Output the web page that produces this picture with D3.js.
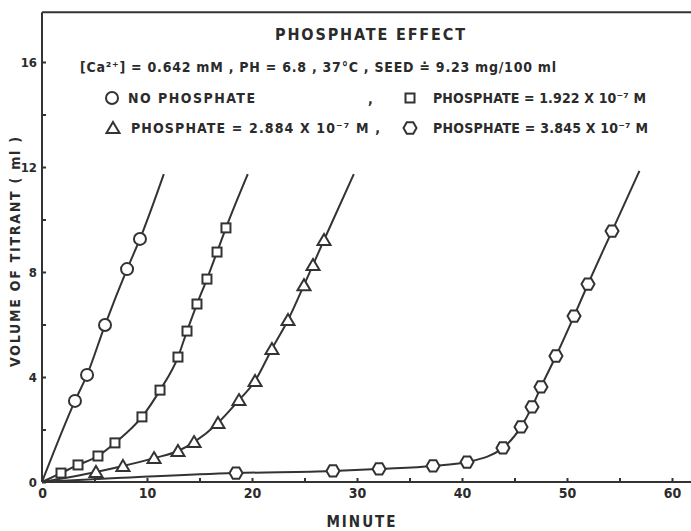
<!DOCTYPE html>
<html lang="en">
<head>
    <meta charset="UTF-8">
    <title>Phosphate Effect</title>
    <script src="https://d3js.org/d3.v7.min.js"></script>
    <style>
        body { margin: 0; background: #fff; }
        svg text {
            font-family: 'DejaVu Sans Condensed', 'DejaVu Sans', sans-serif;
            font-weight: bold;
            fill: #2b2b2b;
        }
        .axis path, .axis line { stroke: #333; stroke-width: 2; }
        .axis text { font-size: 14px; }
        .curve { fill: none; stroke: #333; stroke-width: 2; }
        .marker { fill: #fff; stroke: #333; stroke-width: 2; }
    </style>
</head>
<body>
    <svg width="691" height="531"></svg>
    <script>
        // minutes and ml of titrant
        const noPhosX = [3.14, 4.29, 6.0, 8.1, 9.33];
        const noPhosY = [3.09, 4.08, 5.98, 8.11, 9.26];
        const noPhosEnd = [11.6, 11.73];

        const phos1X = [1.81, 3.43, 5.33, 6.95, 9.52, 11.24, 12.95, 13.81, 14.76, 15.71, 16.67, 17.52];
        const phos1Y = [0.34, 0.65, 0.99, 1.49, 2.48, 3.5, 4.76, 5.75, 6.78, 7.73, 8.76, 9.68];
        const phos1End = [19.6, 11.73];

        const phos2X = [5.14, 7.71, 10.67, 12.95, 14.48, 16.76, 18.76, 20.29, 21.9, 23.43, 24.95, 25.81, 26.86];
        const phos2Y = [0.38, 0.61, 0.91, 1.18, 1.52, 2.25, 3.12, 3.85, 5.07, 6.17, 7.5, 8.27, 9.22];
        const phos2End = [29.7, 11.73];

        const phos3X = [18.48, 27.71, 32.1, 37.24, 40.48, 43.9, 45.62, 46.67, 47.52, 48.95, 50.67, 52.0, 54.29];
        const phos3Y = [0.34, 0.42, 0.5, 0.61, 0.76, 1.30, 2.10, 2.86, 3.62, 4.8, 6.32, 7.54, 9.56];
        const phos3End = [56.9, 11.85];

        const xTicks = [0, 10, 20, 30, 40, 50, 60];
        const yTicks = [0, 4, 8, 12, 16];

        const svg = d3.select("svg");

        const x = d3.scaleLinear().domain([0, 60]).range([42, 672]);
        const y = d3.scaleLinear().domain([0, 16]).range([482, 62]);

        // frame: top border
        svg.append("line")
            .attr("x1", x(0)).attr("x2", 691)
            .attr("y1", y(17.9)).attr("y2", y(17.9))
            .attr("stroke", "#333").attr("stroke-width", 2);

        // x axis
        const xAxis = svg.append("g")
            .attr("class", "axis")
            .attr("transform", `translate(0,${y(0)})`)
            .call(d3.axisBottom(x).tickValues(d3.range(0, 65, 5)).tickSize(-4)
                .tickFormat(d => xTicks.includes(d) ? d : ""));
        xAxis.select(".domain").attr("d", `M${x(0)},0H691`);
        xAxis.selectAll("text").attr("y", 6);

        // y axis
        const yAxis = svg.append("g")
            .attr("class", "axis")
            .attr("transform", `translate(${x(0)},0)`)
            .call(d3.axisLeft(y).tickValues(d3.range(0, 18, 2)).tickSize(-4)
                .tickFormat(d => yTicks.includes(d) ? d : ""));
        yAxis.select(".domain").attr("d", `M0,${y(17.9)}V${y(0)}`);
        yAxis.selectAll("text").attr("x", -5).style("font-size", "13px");

        // axis titles
        svg.append("text")
            .attr("x", 362).attr("y", 527)
            .attr("text-anchor", "middle")
            .attr("font-size", 15)
            .attr("letter-spacing", 2)
            .text("MINUTE");

        svg.append("text")
            .attr("transform", "translate(20,252) rotate(-90)")
            .attr("text-anchor", "middle")
            .attr("font-size", 14)
            .attr("textLength", 230)
            .attr("lengthAdjust", "spacing")
            .text("VOLUME  OF  TITRANT  ( ml )");

        // title and conditions
        svg.append("text")
            .attr("x", 275).attr("y", 40)
            .attr("font-size", 16)
            .attr("textLength", 190)
            .attr("lengthAdjust", "spacing")
            .text("PHOSPHATE  EFFECT");

        svg.append("text")
            .attr("x", 80).attr("y", 72)
            .attr("font-size", 14)
            .attr("textLength", 476)
            .attr("lengthAdjust", "spacing")
            .text("[Ca²⁺] = 0.642 mM , PH = 6.8 , 37°C ,  SEED ≐ 9.23 mg/100 ml");

        const line = d3.line()
            .x(d => x(d[0]))
            .y(d => y(d[1]))
            .curve(d3.curveMonotoneX);

        const hexPath = r => d3.range(6).map(i => {
            const a = Math.PI / 3 * i;
            return [r * Math.cos(a), r * Math.sin(a)];
        });

        const shapes = {
            circle: g => g.append("circle").attr("r", 6),
            square: g => g.append("rect").attr("x", -4.5).attr("y", -4.5).attr("width", 9).attr("height", 9),
            triangle: g => g.append("path").attr("d", "M0,-6L6.5,5L-6.5,5Z"),
            hexagon: g => g.append("path").attr("d", "M" + hexPath(6.5).join("L") + "Z")
        };

        const series = [
            { xs: noPhosX, ys: noPhosY, end: noPhosEnd, shape: "circle" },
            { xs: phos1X, ys: phos1Y, end: phos1End, shape: "square" },
            { xs: phos2X, ys: phos2Y, end: phos2End, shape: "triangle" },
            { xs: phos3X, ys: phos3Y, end: phos3End, shape: "hexagon" }
        ];

        series.forEach(s => {
            const pts = s.xs.map((v, i) => [v, s.ys[i]]);
            svg.append("path")
                .attr("class", "curve")
                .attr("d", line([[0, 0], ...pts, s.end]));
            pts.forEach(p => {
                const g = svg.append("g")
                    .attr("class", "marker")
                    .attr("transform", `translate(${x(p[0])},${y(p[1])})`);
                shapes[s.shape](g);
            });
        });

        // legend
        const legend = [
            { shape: "circle", px: 112, py: 98, tx: 128, w: 127, label: "NO  PHOSPHATE" },
            { shape: "square", px: 410, py: 98, tx: 433, w: 213, label: "PHOSPHATE = 1.922 X 10⁻⁷ M" },
            { shape: "triangle", px: 113, py: 128, tx: 131, w: 249, label: "PHOSPHATE = 2.884 X 10⁻⁷ M  ," },
            { shape: "hexagon", px: 410, py: 128, tx: 433, w: 215, label: "PHOSPHATE = 3.845 X 10⁻⁷ M" }
        ];
        legend.forEach(d => {
            const g = svg.append("g")
                .attr("class", "marker")
                .attr("transform", `translate(${d.px},${d.py})`);
            shapes[d.shape](g);
            svg.append("text")
                .attr("x", d.tx).attr("y", d.py + 5)
                .attr("font-size", 14)
                .attr("textLength", d.w)
                .attr("lengthAdjust", "spacing")
                .text(d.label);
        });
        svg.append("text").attr("x", 368).attr("y", 104).attr("font-size", 14).text(",");
    </script>
</body>
</html>
